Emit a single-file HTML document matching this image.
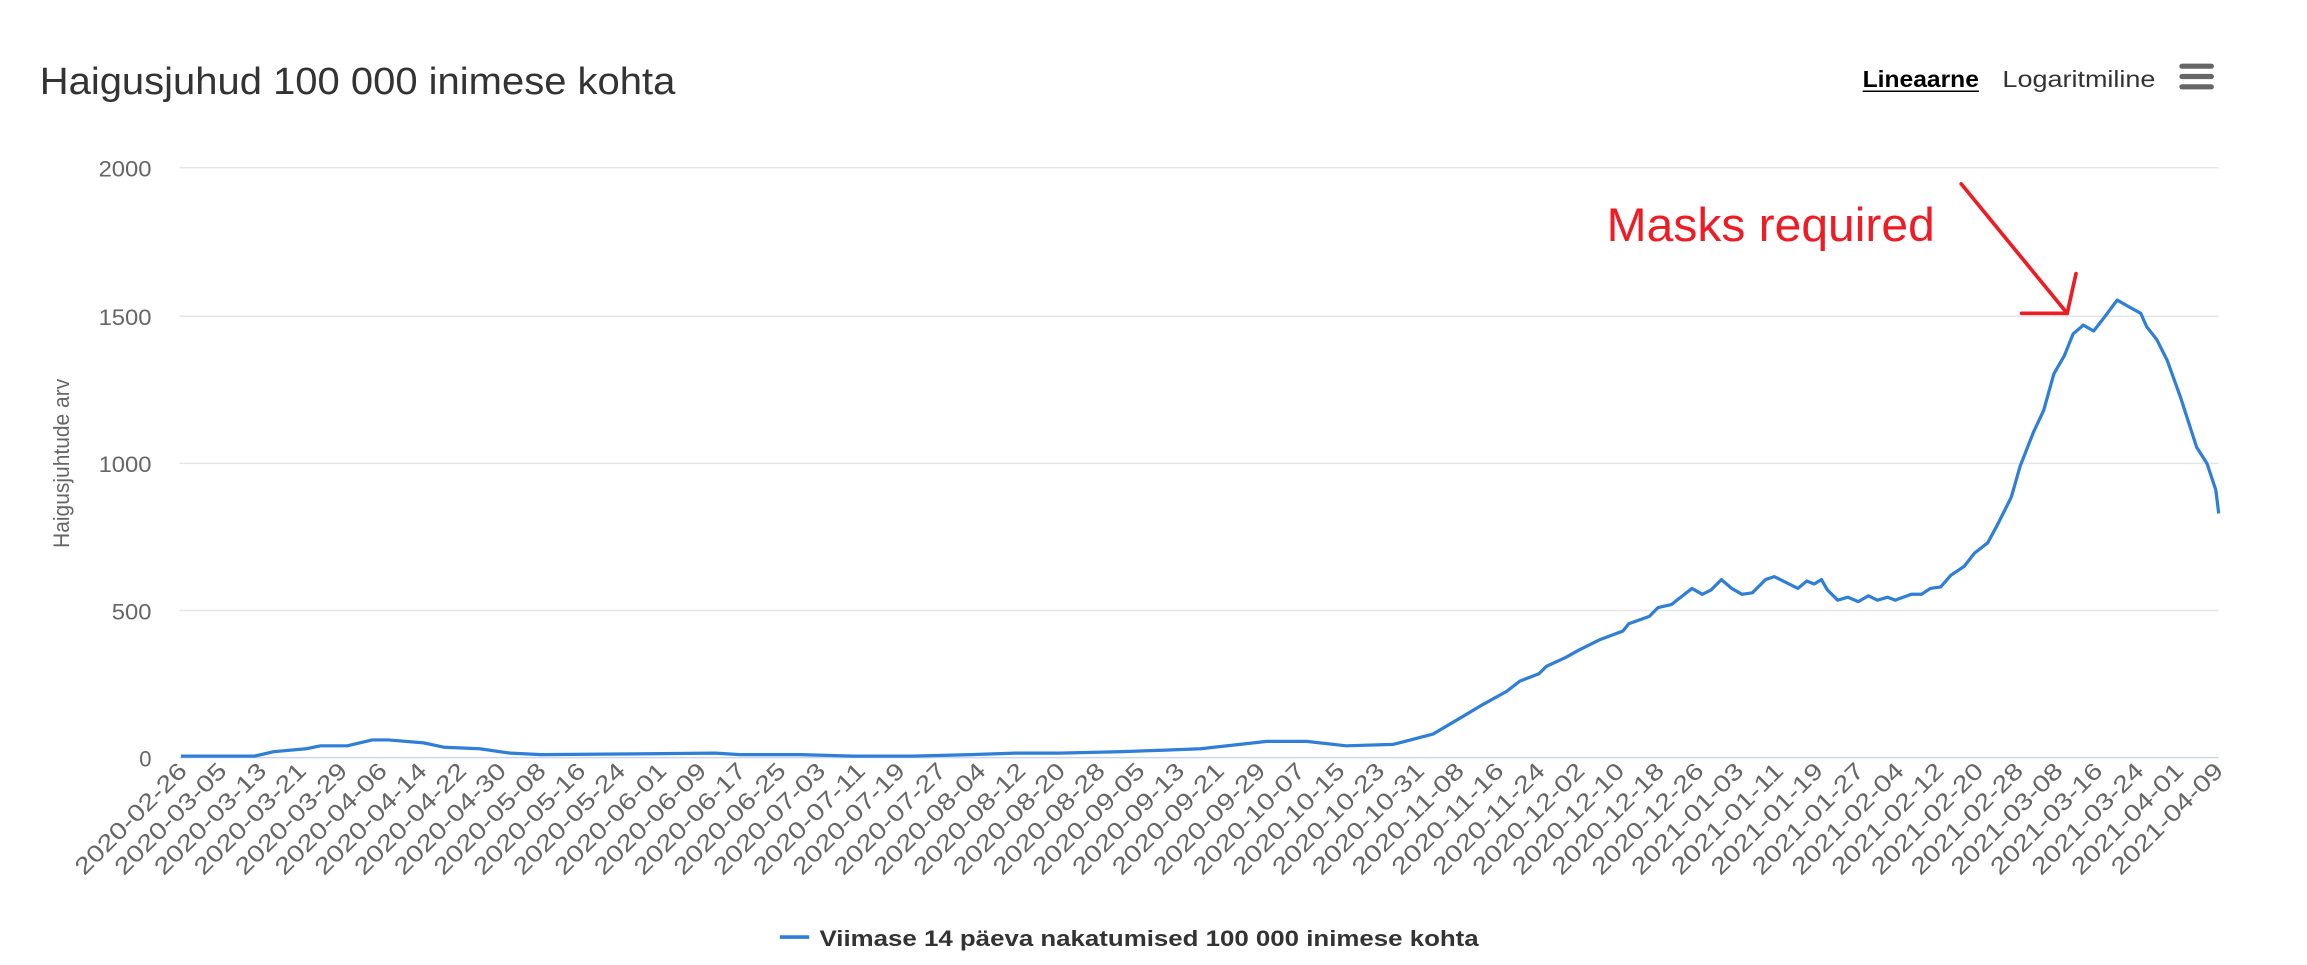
<!DOCTYPE html>
<html><head><meta charset="utf-8"><style>html,body{margin:0;padding:0;background:#fff}svg{display:block}</style></head>
<body>
<svg width="2307" height="965" viewBox="0 0 1568 656" preserveAspectRatio="none" xmlns="http://www.w3.org/2000/svg" font-family="Liberation Sans, sans-serif">
<rect width="1568" height="656" fill="#fff"/>
<text x="27" y="64" font-size="26" fill="#333" textLength="432" lengthAdjust="spacingAndGlyphs">Haigusjuhud 100 000 inimese kohta</text>
<text x="1266" y="59" font-size="16" font-weight="bold" fill="#000" textLength="79" lengthAdjust="spacingAndGlyphs">Lineaarne</text>
<line x1="1266" y1="62" x2="1345" y2="62" stroke="#000" stroke-width="1"/>
<text x="1361" y="59" font-size="16" fill="#333" textLength="104" lengthAdjust="spacingAndGlyphs">Logaritmiline</text>
<g stroke="#666" stroke-width="3.5" stroke-linecap="round"><line x1="1483" y1="45" x2="1503" y2="45"/><line x1="1483" y1="52" x2="1503" y2="52"/><line x1="1483" y1="59" x2="1503" y2="59"/></g>
<g stroke="#e6e6e6" stroke-width="1"><line x1="122" y1="114" x2="1508" y2="114"/><line x1="122" y1="215" x2="1508" y2="215"/><line x1="122" y1="315" x2="1508" y2="315"/><line x1="122" y1="415" x2="1508" y2="415"/></g>
<line x1="122" y1="515" x2="1508" y2="515" stroke="#ccd6eb" stroke-width="1"/>
<g font-size="15" fill="#666" text-anchor="end"><text x="103" y="120" textLength="36" lengthAdjust="spacingAndGlyphs">2000</text><text x="103" y="221" textLength="36" lengthAdjust="spacingAndGlyphs">1500</text><text x="103" y="321" textLength="36" lengthAdjust="spacingAndGlyphs">1000</text><text x="103" y="421" textLength="27" lengthAdjust="spacingAndGlyphs">500</text><text x="103" y="521">0</text></g>
<text transform="translate(47,315) rotate(-90)" font-size="15" fill="#666" text-anchor="middle" textLength="115" lengthAdjust="spacingAndGlyphs">Haigusjuhtude arv</text>
<polyline fill="none" stroke="#2f7ed8" stroke-width="2.2" stroke-linejoin="round" points="123,514 173,514 186,511 208,509 218,507 236,507 253,503 264,503 288,505 302,508 326,509 347,512 368,513 486,512 503,513 544,513 580,514 620,514 660,513 690,512 720,512 760,511 790,510 816,509 861,504 888,504 915,507 947,506 974,499 996,486 1006,480 1024,470 1033,463 1046,458 1051,453 1064,447 1073,442 1087,435 1103,429 1107,424 1121,419 1127,413 1136,411 1141,407 1150,400 1157,404 1163,401 1170,394 1177,400 1184,404 1191,403 1200,394 1206,392 1222,400 1228,395 1233,397 1238,394 1242,401 1249,408 1256,406 1263,409 1270,405 1276,408 1283,406 1288,408 1299,404 1306,404 1312,400 1319,399 1326,391 1335,385 1342,376 1351,369 1358,356 1367,338 1373,317 1382,294 1389,279 1396,254 1403,242 1409,227 1416,221 1423,225 1430,216 1439,204 1446,208 1455,213 1459,222 1466,231 1473,245 1482,270 1493,304 1500,315 1506,333 1508,349"/>
<text x="1092" y="164" font-size="32" fill="#ee1c25" textLength="223" lengthAdjust="spacingAndGlyphs">Masks required</text>
<g stroke="#ee1c25" stroke-width="2.5" stroke-linecap="round" fill="none"><line x1="1333" y1="125" x2="1405" y2="213"/><line x1="1374" y1="213" x2="1405" y2="213"/><line x1="1405" y1="213" x2="1411" y2="186"/></g>
<line x1="530" y1="637" x2="550" y2="637" stroke="#2f7ed8" stroke-width="2.5"/>
<text x="557" y="643" font-size="15" font-weight="bold" fill="#333" textLength="448" lengthAdjust="spacingAndGlyphs">Viimase 14 päeva nakatumised 100 000 inimese kohta</text>
<g font-size="16" fill="#666" text-anchor="end">
<text transform="translate(128,525) rotate(-45)" textLength="100" lengthAdjust="spacingAndGlyphs">2020-02-26</text>
<text transform="translate(155,525) rotate(-45)" textLength="100" lengthAdjust="spacingAndGlyphs">2020-03-05</text>
<text transform="translate(182,525) rotate(-45)" textLength="100" lengthAdjust="spacingAndGlyphs">2020-03-13</text>
<text transform="translate(209,525) rotate(-45)" textLength="100" lengthAdjust="spacingAndGlyphs">2020-03-21</text>
<text transform="translate(237,525) rotate(-45)" textLength="100" lengthAdjust="spacingAndGlyphs">2020-03-29</text>
<text transform="translate(264,525) rotate(-45)" textLength="100" lengthAdjust="spacingAndGlyphs">2020-04-06</text>
<text transform="translate(291,525) rotate(-45)" textLength="100" lengthAdjust="spacingAndGlyphs">2020-04-14</text>
<text transform="translate(318,525) rotate(-45)" textLength="100" lengthAdjust="spacingAndGlyphs">2020-04-22</text>
<text transform="translate(345,525) rotate(-45)" textLength="100" lengthAdjust="spacingAndGlyphs">2020-04-30</text>
<text transform="translate(372,525) rotate(-45)" textLength="100" lengthAdjust="spacingAndGlyphs">2020-05-08</text>
<text transform="translate(399,525) rotate(-45)" textLength="100" lengthAdjust="spacingAndGlyphs">2020-05-16</text>
<text transform="translate(426,525) rotate(-45)" textLength="100" lengthAdjust="spacingAndGlyphs">2020-05-24</text>
<text transform="translate(454,525) rotate(-45)" textLength="100" lengthAdjust="spacingAndGlyphs">2020-06-01</text>
<text transform="translate(481,525) rotate(-45)" textLength="100" lengthAdjust="spacingAndGlyphs">2020-06-09</text>
<text transform="translate(508,525) rotate(-45)" textLength="100" lengthAdjust="spacingAndGlyphs">2020-06-17</text>
<text transform="translate(535,525) rotate(-45)" textLength="100" lengthAdjust="spacingAndGlyphs">2020-06-25</text>
<text transform="translate(562,525) rotate(-45)" textLength="100" lengthAdjust="spacingAndGlyphs">2020-07-03</text>
<text transform="translate(589,525) rotate(-45)" textLength="100" lengthAdjust="spacingAndGlyphs">2020-07-11</text>
<text transform="translate(616,525) rotate(-45)" textLength="100" lengthAdjust="spacingAndGlyphs">2020-07-19</text>
<text transform="translate(644,525) rotate(-45)" textLength="100" lengthAdjust="spacingAndGlyphs">2020-07-27</text>
<text transform="translate(671,525) rotate(-45)" textLength="100" lengthAdjust="spacingAndGlyphs">2020-08-04</text>
<text transform="translate(698,525) rotate(-45)" textLength="100" lengthAdjust="spacingAndGlyphs">2020-08-12</text>
<text transform="translate(725,525) rotate(-45)" textLength="100" lengthAdjust="spacingAndGlyphs">2020-08-20</text>
<text transform="translate(752,525) rotate(-45)" textLength="100" lengthAdjust="spacingAndGlyphs">2020-08-28</text>
<text transform="translate(779,525) rotate(-45)" textLength="100" lengthAdjust="spacingAndGlyphs">2020-09-05</text>
<text transform="translate(806,525) rotate(-45)" textLength="100" lengthAdjust="spacingAndGlyphs">2020-09-13</text>
<text transform="translate(833,525) rotate(-45)" textLength="100" lengthAdjust="spacingAndGlyphs">2020-09-21</text>
<text transform="translate(861,525) rotate(-45)" textLength="100" lengthAdjust="spacingAndGlyphs">2020-09-29</text>
<text transform="translate(888,525) rotate(-45)" textLength="100" lengthAdjust="spacingAndGlyphs">2020-10-07</text>
<text transform="translate(915,525) rotate(-45)" textLength="100" lengthAdjust="spacingAndGlyphs">2020-10-15</text>
<text transform="translate(942,525) rotate(-45)" textLength="100" lengthAdjust="spacingAndGlyphs">2020-10-23</text>
<text transform="translate(969,525) rotate(-45)" textLength="100" lengthAdjust="spacingAndGlyphs">2020-10-31</text>
<text transform="translate(996,525) rotate(-45)" textLength="100" lengthAdjust="spacingAndGlyphs">2020-11-08</text>
<text transform="translate(1023,525) rotate(-45)" textLength="100" lengthAdjust="spacingAndGlyphs">2020-11-16</text>
<text transform="translate(1051,525) rotate(-45)" textLength="100" lengthAdjust="spacingAndGlyphs">2020-11-24</text>
<text transform="translate(1078,525) rotate(-45)" textLength="100" lengthAdjust="spacingAndGlyphs">2020-12-02</text>
<text transform="translate(1105,525) rotate(-45)" textLength="100" lengthAdjust="spacingAndGlyphs">2020-12-10</text>
<text transform="translate(1132,525) rotate(-45)" textLength="100" lengthAdjust="spacingAndGlyphs">2020-12-18</text>
<text transform="translate(1159,525) rotate(-45)" textLength="100" lengthAdjust="spacingAndGlyphs">2020-12-26</text>
<text transform="translate(1186,525) rotate(-45)" textLength="100" lengthAdjust="spacingAndGlyphs">2021-01-03</text>
<text transform="translate(1213,525) rotate(-45)" textLength="100" lengthAdjust="spacingAndGlyphs">2021-01-11</text>
<text transform="translate(1240,525) rotate(-45)" textLength="100" lengthAdjust="spacingAndGlyphs">2021-01-19</text>
<text transform="translate(1268,525) rotate(-45)" textLength="100" lengthAdjust="spacingAndGlyphs">2021-01-27</text>
<text transform="translate(1295,525) rotate(-45)" textLength="100" lengthAdjust="spacingAndGlyphs">2021-02-04</text>
<text transform="translate(1322,525) rotate(-45)" textLength="100" lengthAdjust="spacingAndGlyphs">2021-02-12</text>
<text transform="translate(1349,525) rotate(-45)" textLength="100" lengthAdjust="spacingAndGlyphs">2021-02-20</text>
<text transform="translate(1376,525) rotate(-45)" textLength="100" lengthAdjust="spacingAndGlyphs">2021-02-28</text>
<text transform="translate(1403,525) rotate(-45)" textLength="100" lengthAdjust="spacingAndGlyphs">2021-03-08</text>
<text transform="translate(1430,525) rotate(-45)" textLength="100" lengthAdjust="spacingAndGlyphs">2021-03-16</text>
<text transform="translate(1458,525) rotate(-45)" textLength="100" lengthAdjust="spacingAndGlyphs">2021-03-24</text>
<text transform="translate(1485,525) rotate(-45)" textLength="100" lengthAdjust="spacingAndGlyphs">2021-04-01</text>
<text transform="translate(1512,525) rotate(-45)" textLength="100" lengthAdjust="spacingAndGlyphs">2021-04-09</text>
</g>
</svg>
</body></html>
